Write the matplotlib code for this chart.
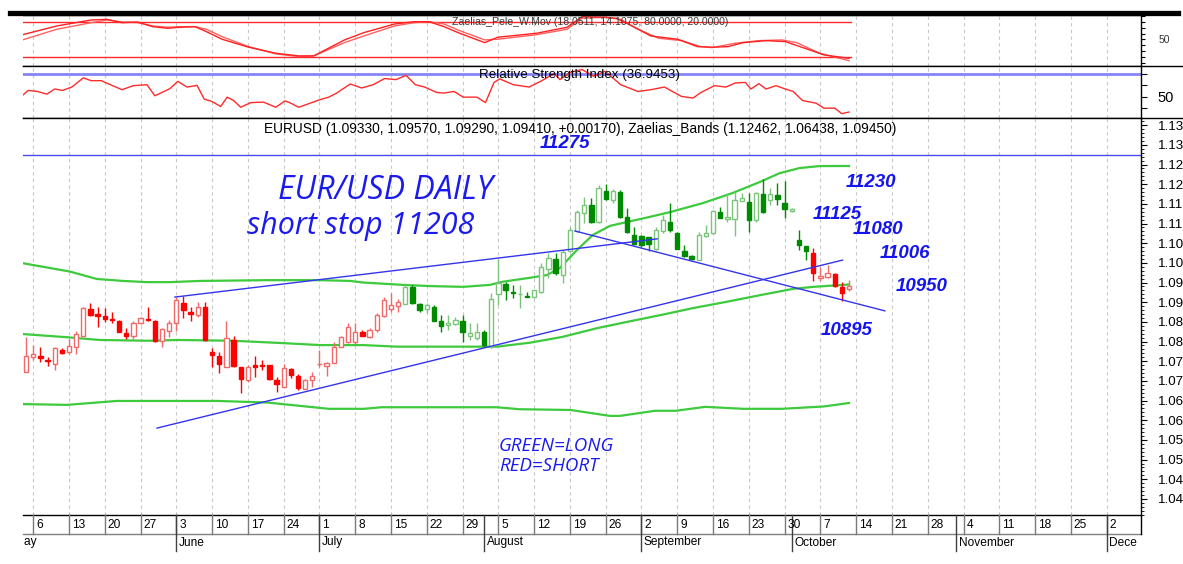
import numpy as np
import pandas as pd
import matplotlib
matplotlib.use("Agg")
import matplotlib.pyplot as plt
from matplotlib.lines import Line2D
from matplotlib.ticker import MultipleLocator
from matplotlib.transforms import Bbox, TransformedBbox, blended_transform_factory

plt.rcParams['font.family'] = ['Liberation Sans', 'DejaVu Sans']

#------------------------------- data -------------------------------
# EURUSD daily candles, one per business day, 3 May -> 11 Oct 2024
opens = [1.0723, 1.0760, 1.0764, 1.0753, 1.0743, 1.0778, 1.0773, 1.0786, 1.0815, 1.0882,
         1.0869, 1.0865, 1.0857, 1.0852, 1.0822, 1.0815, 1.0846, 1.0857, 1.0853, 1.0801,
         1.0828, 1.0846, 1.0899, 1.0876, 1.0868, 1.0887, 1.0774, 1.0764, 1.0735, 1.0804,
         1.0735, 1.0701, 1.0740, 1.0741, 1.0741, 1.0702, 1.0685, 1.0730, 1.0713, 1.0679,
         1.0702, 1.0742, 1.0738, 1.0745, 1.0787, 1.0800, 1.0798, 1.0823, 1.0811, 1.0829,
         1.0865, 1.0882, 1.0891, 1.0896, 1.0938, 1.0895, 1.0883, 1.0889, 1.0851, 1.0841,
         1.0845, 1.0853, 1.0815, 1.0808, 1.0825, 1.0787, 1.0921, 1.0946, 1.0925, 1.0921,
         1.0917, 1.0914, 1.0927, 1.0984, 1.1009, 1.0969, 1.1030, 1.1081, 1.1126, 1.1147,
         1.1105, 1.1183, 1.1160, 1.1181, 1.1116, 1.1071, 1.1067, 1.1065, 1.1035, 1.1081,
         1.1105, 1.1077, 1.1031, 1.1017, 1.1007, 1.1068, 1.1075, 1.1130, 1.1111, 1.1111,
         1.1158, 1.1154, 1.1109, 1.1175, 1.1160, 1.1173, 1.1153, 1.1133, 1.1058, 1.1043,
         1.1026, 1.0961, 1.0965, 1.0972, 1.0938, 1.0933]
highs = [1.0812, 1.0791, 1.0787, 1.0760, 1.0786, 1.0783, 1.0806, 1.0826, 1.0888, 1.0897,
         1.0889, 1.0885, 1.0874, 1.0855, 1.0834, 1.0853, 1.0863, 1.0887, 1.0855, 1.0835,
         1.0855, 1.0914, 1.0916, 1.0889, 1.0901, 1.0901, 1.0784, 1.0774, 1.0853, 1.0814,
         1.0735, 1.0741, 1.0764, 1.0753, 1.0741, 1.0711, 1.0743, 1.0732, 1.0718, 1.0706,
         1.0722, 1.0778, 1.0749, 1.0800, 1.0815, 1.0846, 1.0846, 1.0829, 1.0834, 1.0872,
         1.0914, 1.0924, 1.0908, 1.0944, 1.0944, 1.0897, 1.0899, 1.0893, 1.0868, 1.0868,
         1.0863, 1.0868, 1.0846, 1.0846, 1.0829, 1.0924, 1.1010, 1.0952, 1.0944, 1.0944,
         1.0927, 1.0931, 1.0999, 1.1024, 1.1024, 1.1033, 1.1092, 1.1134, 1.1168, 1.1164,
         1.1198, 1.1200, 1.1187, 1.1185, 1.1139, 1.1092, 1.1071, 1.1065, 1.1092, 1.1122,
         1.1151, 1.1079, 1.1046, 1.1020, 1.1079, 1.1096, 1.1134, 1.1143, 1.1177, 1.1181,
         1.1177, 1.1177, 1.1181, 1.1212, 1.1190, 1.1202, 1.1209, 1.1139, 1.1084, 1.1043,
         1.1037, 1.0990, 1.0995, 1.0974, 1.0952, 1.0957]
lows = [1.0722, 1.0753, 1.0749, 1.0739, 1.0728, 1.0768, 1.0768, 1.0768, 1.0813, 1.0866,
        1.0838, 1.0850, 1.0848, 1.0824, 1.0806, 1.0807, 1.0845, 1.0852, 1.0800, 1.0787,
        1.0811, 1.0828, 1.0861, 1.0853, 1.0863, 1.0802, 1.0735, 1.0721, 1.0735, 1.0736,
        1.0670, 1.0698, 1.0711, 1.0728, 1.0702, 1.0673, 1.0684, 1.0707, 1.0677, 1.0679,
        1.0685, 1.0736, 1.0712, 1.0745, 1.0785, 1.0797, 1.0795, 1.0813, 1.0808, 1.0825,
        1.0863, 1.0876, 1.0874, 1.0896, 1.0895, 1.0876, 1.0872, 1.0851, 1.0825, 1.0829,
        1.0842, 1.0800, 1.0804, 1.0804, 1.0787, 1.0783, 1.0893, 1.0906, 1.0910, 1.0885,
        1.0914, 1.0910, 1.0924, 1.0961, 1.0969, 1.0950, 1.1030, 1.1079, 1.1101, 1.1101,
        1.1102, 1.1160, 1.1151, 1.1113, 1.1075, 1.1046, 1.1041, 1.1029, 1.1033, 1.1077,
        1.1079, 1.1035, 1.1016, 1.1007, 1.1006, 1.1065, 1.1073, 1.1113, 1.1105, 1.1068,
        1.1156, 1.1079, 1.1105, 1.1126, 1.1147, 1.1147, 1.1113, 1.1130, 1.1033, 1.1007,
        1.0955, 1.0955, 1.0961, 1.0938, 1.0902, 1.0929]
closes = [1.0764, 1.0769, 1.0757, 1.0751, 1.0783, 1.0770, 1.0789, 1.0819, 1.0885, 1.0868,
          1.0866, 1.0857, 1.0856, 1.0825, 1.0815, 1.0846, 1.0859, 1.0854, 1.0801, 1.0832,
          1.0848, 1.0906, 1.0880, 1.0870, 1.0889, 1.0804, 1.0766, 1.0742, 1.0808, 1.0739,
          1.0704, 1.0735, 1.0735, 1.0738, 1.0704, 1.0692, 1.0732, 1.0715, 1.0681, 1.0702,
          1.0713, 1.0743, 1.0745, 1.0786, 1.0811, 1.0838, 1.0823, 1.0814, 1.0829, 1.0868,
          1.0906, 1.0893, 1.0901, 1.0938, 1.0897, 1.0880, 1.0893, 1.0853, 1.0840, 1.0848,
          1.0855, 1.0823, 1.0822, 1.0825, 1.0791, 1.0908, 1.0948, 1.0931, 1.0924, 1.0922,
          1.0914, 1.0931, 1.0990, 1.1012, 1.0974, 1.1028, 1.1084, 1.1130, 1.1147, 1.1103,
          1.1190, 1.1162, 1.1183, 1.1117, 1.1079, 1.1047, 1.1046, 1.1047, 1.1084, 1.1109,
          1.1084, 1.1035, 1.1017, 1.1011, 1.1071, 1.1075, 1.1133, 1.1113, 1.1117, 1.1160,
          1.1164, 1.1109, 1.1177, 1.1128, 1.1175, 1.1162, 1.1136, 1.1136, 1.1046, 1.1031,
          1.0974, 1.0966, 1.0973, 1.0940, 1.0923, 1.0941]
# trading signal colour of each candle (S = short / red, L = long / green)
signal = ['S'] * 53 + ['L'] * 57 + ['S'] * 6

# indicator lines; x = business days counted from Monday 6 May
pele_k_x = [-1.5, 3.3, 8.1, 10.3, 12.4, 14.6, 16.7, 18.8, 20.5, 22.6, 24.2, 26.4, 30.1, 33.9,
            37.1, 39.2, 43.5, 46.2, 50.5, 53.2, 55.3, 57.4, 59.6, 63.1, 64.9, 70.3, 74.6,
            76.7, 79.9, 81.5, 83.7, 86.3, 90.1, 92.8, 94.9, 97.1, 99.2, 102.4, 105.1, 107.8,
            110.5, 114.0]
pele_k = [58.0, 72.8, 82.9, 84.0, 78.3, 79.5, 71.6, 68.9, 70.6, 71.6, 63.2, 50.3, 36.9, 26.7,
          22.2, 22.2, 49.2, 61.5, 76.1, 80.0, 80.0, 71.6, 60.4, 44.6, 53.7, 60.4, 70.6,
          88.4, 87.4, 85.7, 72.8, 55.9, 50.3, 37.9, 36.9, 37.9, 44.6, 48.0, 46.3, 35.2,
          23.9, 18.05]
pele_d_x = [-1.5, 3.3, 8.1, 10.3, 12.4, 14.6, 16.7, 18.8, 20.5, 22.6, 24.2, 26.4, 30.1, 33.9,
            37.1, 39.2, 43.5, 46.2, 50.5, 53.2, 55.3, 57.4, 59.6, 63.1, 64.9, 70.3, 74.6,
            76.7, 79.9, 82.1, 84.2, 87.4, 90.6, 93.3, 94.9, 98.1, 101.4, 104.6, 106.7, 109.9,
            114.0]
pele_d = [49.2, 67.2, 78.3, 82.9, 79.5, 78.3, 72.8, 70.6, 71.6, 71.6, 67.2, 54.7, 37.9, 25.6,
          21.0, 22.2, 44.6, 55.9, 72.8, 78.3, 80.0, 76.1, 64.8, 49.2, 50.3, 58.0, 67.2,
          86.0, 87.4, 84.0, 68.9, 52.0, 48.0, 37.9, 36.2, 43.6, 48.0, 49.2, 44.6, 26.7,
          14.1]
pele_levels = [80, 20]

rsi_x = [-1.4, -0.7, 0.6, 1.9, 3.0, 4.1, 5.4, 7.0, 8.1, 9.5, 10.8, 12.4, 14.0, 15.9, 17.0,
         18.3, 19.1, 20.2, 21.5, 22.9, 23.9, 25.0, 26.2, 27.1, 28.0, 29.0, 30.4, 32.2, 33.9,
         35.2, 36.0, 37.1, 38.7, 40.0, 41.3, 42.4, 44.3, 45.9, 47.5, 49.1, 50.7, 52.1, 53.4,
         54.7, 56.4, 57.4, 58.8, 60.1, 62.0, 63.2, 64.4, 65.2, 67.1, 69.3, 70.9, 72.8, 73.6,
         75.1, 76.7, 78.3, 79.9, 82.1, 84.5, 86.3, 88.2, 90.6, 92.2, 93.3, 95.2, 96.8, 98.1,
         99.5, 100.3, 101.4, 102.4, 103.8, 105.1, 106.2, 107.5, 109.4, 110.5, 112.0, 113.0,
         114.0]
rsi = [51.7, 55.5, 54.6, 52.3, 56.7, 55.5, 58.4, 66.3, 63.9, 63.9, 60.4, 56.1, 59.6, 60.4, 50.9,
       54.6, 57.0, 63.3, 58.4, 59.8, 48.0, 45.9, 41.6, 49.7, 46.8, 41.0, 45.0, 45.4, 41.0,
       46.5, 44.5, 41.0, 44.5, 47.4, 49.7, 53.2, 61.0, 57.6, 60.4, 65.7, 64.8, 68.5, 60.4,
       58.4, 53.7, 53.2, 54.6, 49.7, 49.7, 45.0, 62.4, 65.4, 60.4, 58.4, 63.3, 70.0, 64.8,
       71.1, 73.5, 67.7, 72.0, 60.4, 54.6, 56.1, 58.4, 50.3, 48.9, 53.7, 59.6, 58.4, 61.9,
       62.4, 56.7, 61.3, 56.7, 59.6, 56.7, 54.6, 46.8, 44.5, 40.2, 40.2, 35.5, 36.9]
rsi_level = 70

# Zaelias_Bands
band_up_x = [-1.43, 5.1, 8.9, 12.6, 15.9, 19.1, 23.3, 32.7, 40.1, 44.3, 46.1, 51.7, 55.4, 60.1,
             63.8, 65.6, 69.4, 71.8, 73.6, 76.0, 78.2, 80.6, 83.0, 86.2, 89.0, 93.6, 97.8,
             101.6, 104.3, 107.1, 109.9, 114.0]
band_up = [1.0999, 1.0978, 1.0959, 1.0954, 1.0951, 1.0951, 1.0954, 1.0956, 1.0956, 1.0954,
           1.0950, 1.0944, 1.0941, 1.0939, 1.0944, 1.0952, 1.0962, 1.0969, 1.0987, 1.1033,
           1.1071, 1.1094, 1.1104, 1.1117, 1.1129, 1.1152, 1.1178, 1.1206, 1.1228, 1.1241,
           1.1246, 1.12462]
band_mid_x = [-1.43, 4.7, 9.3, 16.3, 20.1, 27.9, 34.9, 40.1, 46.1, 50.8, 61.0, 64.8, 69.4, 74.0,
              78.8, 83.0, 87.6, 92.2, 96.9, 101.6, 106.2, 109.0, 114.0]
band_mid = [1.0819, 1.0811, 1.0804, 1.0802, 1.0804, 1.0802, 1.0796, 1.0791, 1.0791, 1.0787,
            1.0787, 1.0787, 1.0797, 1.0812, 1.0834, 1.0850, 1.0867, 1.0885, 1.0901, 1.0918,
            1.0934, 1.0939, 1.0945]
band_lo_x = [-1.43, 4.7, 6.1, 11.7, 18.7, 25.7, 32.7, 39.7, 41.3, 46.2, 48.7, 64.8, 67.9, 75.1,
             80.6, 82.0, 86.9, 89.8, 93.9, 99.2, 104.6, 110.5, 114.0]
band_lo = [1.0641, 1.0639, 1.0641, 1.0649, 1.0649, 1.0649, 1.0645, 1.0632, 1.0629, 1.0629,
           1.0633, 1.0633, 1.0628, 1.0626, 1.0611, 1.0611, 1.0624, 1.0624, 1.0634, 1.0629,
           1.0629, 1.0635, 1.06438]

# hand drawn trend lines (x, price) and the 11275 level
trend_x = [[19.8, 87.2], [75.7, 119.0], [17.3, 113.1]]
trend_y = [[1.0913, 1.1061], [1.1081, 1.0878], [1.0580, 1.1007]]
level_line = 1.1275

#------------------------------ figure ------------------------------
W, H = 1183, 564
fig = plt.figure(figsize=(W / 100, H / 100), dpi=100)


def box(x0, y0, x1, y1):
    return [x0 / W, 1 - y1 / H, (x1 - x0) / W, (y1 - y0) / H]


ax_st = fig.add_axes(box(23, 15, 1141, 65.5))
ax_rsi = fig.add_axes(box(23, 65.5, 1141, 118))
ax = fig.add_axes(box(23, 118, 1141, 515))

XMIN, XMAX = -1.425, 154.8
days = pd.bdate_range("2024-05-01", "2024-12-31")
ref = days.get_loc(pd.Timestamp("2024-05-06"))
xday = np.arange(len(days)) - ref
start = days.get_loc(pd.Timestamp("2024-05-03"))
cx = xday[start:start + len(opens)]
mondays = [(x, d) for x, d in zip(xday, days) if d.dayofweek == 0 and XMIN < x < XMAX]

for a in (ax_st, ax_rsi, ax):
    a.set_xlim(XMIN, XMAX)
    a.set_xticks([])
    for x, d in mondays:
        a.axvline(x, color='#c8c8c8', lw=0.8, ls=(0, (3, 3)), zorder=0)
    a.spines['left'].set_visible(False)
    for s in ('top', 'bottom', 'right'):
        a.spines[s].set_linewidth(1)
        a.spines[s].set_color('black')
    a.yaxis.tick_right()
    a.tick_params(axis='y', which='both', direction='out', colors='black')

# ---- Zaelias_Pele_W.Mov panel
ax_st.set_ylim(6, 91.3)
for lv in pele_levels:
    ax_st.plot([XMIN, 114.3], [lv, lv], color='#ff2a2a', lw=1)
ax_st.plot(pele_d_x, pele_d, color='#ff6060', lw=1)
ax_st.plot(pele_k_x, pele_k, color='#ff2020', lw=1)
ax_st.set_yticks(np.arange(10, 91, 10))
ax_st.set_yticklabels(['' if v != 50 else '50' for v in range(10, 91, 10)], fontsize=7.5, color='#333333')
ax_st.tick_params(axis='y', length=3, pad=10)
ax_st.text(0.507, 0.87, "Zaelias_Pele_W.Mov (18.0511, 14.1075, 80.0000, 20.0000)",
           transform=ax_st.transAxes, ha='center', va='center', fontsize=7.6, color='#3a3a3a')

# ---- RSI panel
ax_rsi.set_ylim(31.74, 76.96)
ax_rsi.axhline(rsi_level, color='#8585f5', lw=2)
ax_rsi.plot(rsi_x, rsi, color='#ff2a2a', lw=1)
ax_rsi.set_yticks([40, 50, 60, 70])
ax_rsi.set_yticklabels(['', '50', '', ''], fontsize=10.5)
ax_rsi.tick_params(axis='y', length=4, pad=8)
ax_rsi.text(0.498, 0.82, "Relative Strength Index (36.9453)", transform=ax_rsi.transAxes,
            ha='center', va='center', fontsize=9.6, color='black')

# ---- main price panel
ax.set_ylim(1.03591, 1.13682)
ax.axhline(level_line, color='#4a4af0', lw=1, zorder=1)

ax.plot(band_up_x, band_up, color='#3dca3d', lw=1.6, zorder=2)
ax.plot(band_mid_x, band_mid, color='#3dca3d', lw=1.6, zorder=2)
ax.plot(band_lo_x, band_lo, color='#3dca3d', lw=1.6, zorder=2)

o, h, l, c = (np.array(v) for v in (opens, highs, lows, closes))
up = c >= o
face, edge = [], []
for s, u in zip(signal, up):
    if s == 'S':
        face.append('white' if u else '#ff0000')
        edge.append('#f06a6a' if u else '#ff0000')
    else:
        face.append('white' if u else '#008a00')
        edge.append('#7cc47c' if u else '#008a00')
ax.vlines(cx, l, h, colors=edge, lw=1, zorder=3)
ax.bar(cx, np.maximum(np.abs(c - o), 0.00006), bottom=np.minimum(o, c), width=0.6,
       color=face, edgecolor=edge, lw=1, zorder=4)

for tx, ty in zip(trend_x, trend_y):
    ax.plot(tx, ty, color='#3434ee', lw=1, zorder=5)

price_ticks = np.arange(1040, 1136, 5) / 1000
ax.set_yticks(price_ticks)
ax.set_yticklabels([f"{(round(v * 1000) // 10) / 100:.2f}" for v in price_ticks], fontsize=9.6)
ax.yaxis.set_minor_locator(MultipleLocator(0.001))
ax.tick_params(axis='y', which='major', length=4, pad=8)
ax.tick_params(axis='y', which='minor', length=2)

ax.text(0.498, 0.973, "EURUSD (1.09330, 1.09570, 1.09290, 1.09410, +0.00170), "
        "Zaelias_Bands (1.12462, 1.06438, 1.09450)", transform=ax.transAxes,
        ha='center', va='center', fontsize=9.95, color='black')

note = dict(color='#1414ee', fontsize=13.5, fontweight='bold', fontstyle='italic',
            ha='center', va='center', zorder=6)
ax.text(74.3, 1.1303, "11275", **note)
ax.text(117.1, 1.1203, "11230", **note)
ax.text(112.3, 1.1122, "11125", **note)
ax.text(118.0, 1.1084, "11080", **note)
ax.text(121.8, 1.1025, "11006", **note)
ax.text(124.2, 1.0941, "10950", **note)
ax.text(113.7, 1.0829, "10895", **note)

hand = dict(color='#1a1aee', fontstyle='italic', family=['Open Sans', 'DejaVu Sans'],
            fontweight='normal', zorder=6)
ax.text(49.2, 1.1183, "EUR/USD DAILY", ha='center', va='center', fontsize=23, **hand)
ax.text(45.8, 1.1093, "short stop 11208", ha='center', va='center', fontsize=22, **hand)
ax.text(65.1, 1.0535, "GREEN=LONG", ha='left', va='center', fontsize=13.5, **hand)
ax.text(65.1, 1.0484, "RED=SHORT", ha='left', va='center', fontsize=13.5, **hand)

# ---- date rows under the chart
tr = blended_transform_factory(ax.transData, ax.transAxes)
clip = TransformedBbox(Bbox.from_extents(23 / W, 0, 1137 / W, 1), fig.transFigure)
row1 = -(534 - 515) / 397
row2 = -(551 - 515) / 397
fig.add_artist(Line2D([XMIN, XMAX], [row1, row1], transform=tr, color='#808080', lw=1))
fig.add_artist(Line2D([XMAX, XMAX], [0, row1], transform=tr, color='black', lw=1))
for x, d in mondays:
    fig.add_artist(Line2D([x, x], [0, row1], transform=tr, color='#7a7a7a', lw=1))
    t = fig.text(x + 0.4, row1 / 2, str(d.day), transform=tr, fontsize=8.6,
                 ha='left', va='center', color='black')
    t.set_clip_box(clip)
months = days.to_series().groupby([days.year, days.month]).first()
for d in months:
    x = xday[days.get_loc(d)]
    if x > XMIN:
        fig.add_artist(Line2D([x, x], [0, row2], transform=tr, color='#404040', lw=1))
    t = fig.text(x + 0.35, (row1 + row2) / 2, d.strftime('%B'), transform=tr, fontsize=8.6,
                 ha='left', va='center', color='black')
    t.set_clip_box(clip)

# frame lines running across the whole width
fig.add_artist(Line2D([10 / W, 1178 / W], [1 - 12.5 / H] * 2, color='black', lw=3.8))
for yy in (65.5, 118):
    fig.add_artist(Line2D([1141 / W, 1183 / W], [1 - yy / H] * 2, color='black', lw=1))

fig.savefig("out.png", dpi=100)
